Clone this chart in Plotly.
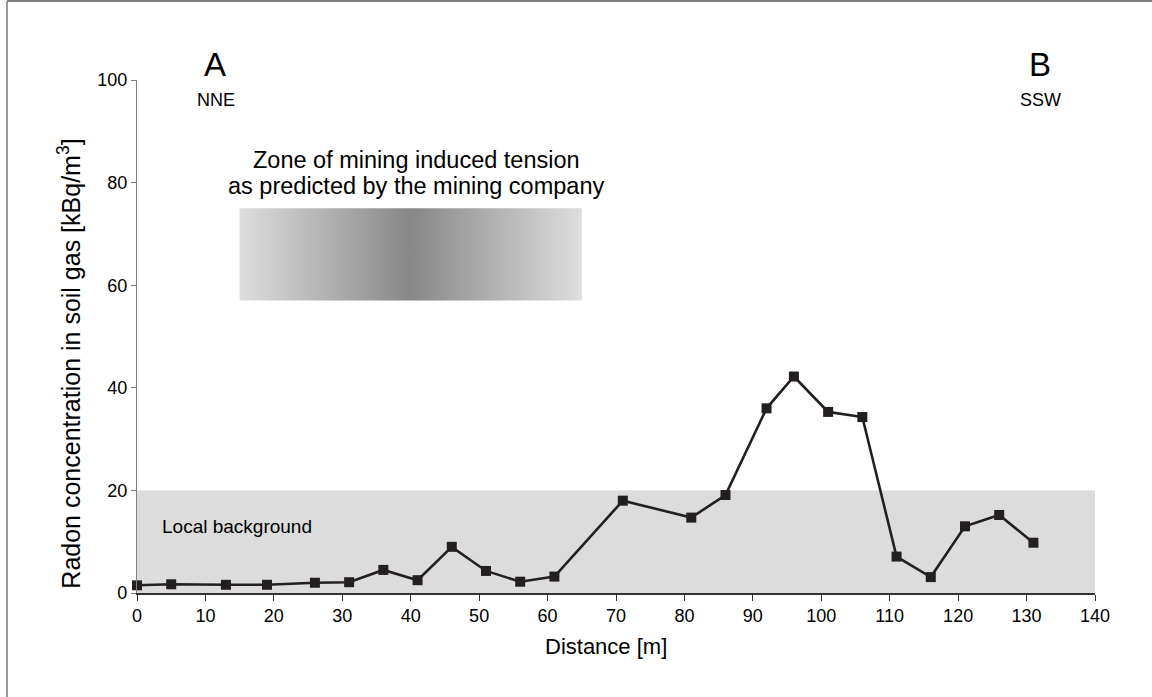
import plotly.graph_objects as go

# Radon profile along the A-B traverse
distance_m = [0, 5, 13, 19, 26, 31, 36, 41, 46, 51, 56, 61, 71, 81, 86,
              92, 96, 101, 106, 111, 116, 121, 126, 131]
radon_kbq = [1.5, 1.7, 1.6, 1.6, 2.0, 2.1, 4.5, 2.5, 9.0, 4.3, 2.2, 3.2, 18.0,
             14.7, 19.1, 36.0, 42.2, 35.3, 34.3, 7.1, 3.1, 13.0, 15.2, 9.8]

# Local background band and predicted tension zone
background_limit = 20
zone_x = [15, 65]
zone_y = [57, 75]

x_ticks = list(range(0, 141, 10))
y_ticks = list(range(0, 101, 20))

FONT = "Liberation Sans, Arial, sans-serif"
INK = "#231f20"

fig = go.Figure()

# Gradient-filled rectangle for the predicted zone
fig.add_trace(go.Scatter(
    x=[zone_x[0], zone_x[1], zone_x[1], zone_x[0], zone_x[0]],
    y=[zone_y[0], zone_y[0], zone_y[1], zone_y[1], zone_y[0]],
    mode="lines", line=dict(width=0), fill="toself",
    fillgradient=dict(type="horizontal",
                      colorscale=[[0, "#dedede"], [0.5, "#878787"], [1, "#dedede"]]),
    hoverinfo="skip", showlegend=False,
))

fig.add_trace(go.Scatter(
    x=distance_m, y=radon_kbq, mode="lines+markers",
    line=dict(color=INK, width=2.6),
    marker=dict(symbol="square", size=10, color=INK),
    showlegend=False, cliponaxis=False,
))

fig.add_shape(type="rect", xref="x", yref="y", x0=0, x1=140, y0=0, y1=background_limit,
              fillcolor="#dcdcdc", line=dict(width=0), layer="below")

# Outer frame lines
fig.add_shape(type="line", xref="paper", yref="paper", x0=-0.1357, x1=1.2,
              y0=1.154, y1=1.154, line=dict(color="#555555", width=1.5))
fig.add_shape(type="line", xref="paper", yref="paper", x0=-0.1357, x1=-0.1357,
              y0=-0.3, y1=1.154, line=dict(color="#999999", width=2))


def label(x, y, text, size, data=False, xanchor="center", angle=0):
    fig.add_annotation(xref="x" if data else "paper", yref="y" if data else "paper",
                       x=x, y=y, text=text, showarrow=False,
                       xanchor=xanchor, yanchor="middle", textangle=angle,
                       font=dict(family=FONT, size=size, color="black"))


# Profile end labels
label(0.0814, 1.031, "A", 33)
label(0.0825, 0.961, "NNE", 18)
label(0.9426, 1.031, "B", 33)
label(0.9426, 0.961, "SSW", 18)

# Zone caption and background label
label(40.8, 84.4, "Zone of mining induced tension", 23.5, data=True)
label(40.8, 79.3, "as predicted by the mining company", 23.5, data=True)
label(3.3, 13, "Local background", 19, data=True, xanchor="left")

# Axis titles
label(-0.071, 0.447, "Radon concentration in soil gas [kBq/m<sup>3</sup>]", 25, angle=-90)
label(0.4896, -0.105, "Distance [m]", 22)

fig.update_layout(
    width=1152, height=697,
    margin=dict(l=137, r=57, t=80, b=104),
    paper_bgcolor="white", plot_bgcolor="white",
    font=dict(family=FONT, color="black"),
    xaxis=dict(range=[0, 140], tickvals=x_ticks, showgrid=False, zeroline=False,
               showline=True, linecolor="#333333", linewidth=1.5,
               ticks="outside", ticklen=6, tickcolor="#333333",
               tickfont=dict(size=18, family=FONT, color="black")),
    yaxis=dict(range=[0, 100], tickvals=y_ticks, showgrid=False, zeroline=False,
               showline=True, linecolor="#808080", linewidth=1.2,
               ticks="outside", ticklen=5, tickcolor="#808080",
               tickfont=dict(size=18, family=FONT, color="black")),
)

fig.write_html("out.html")
